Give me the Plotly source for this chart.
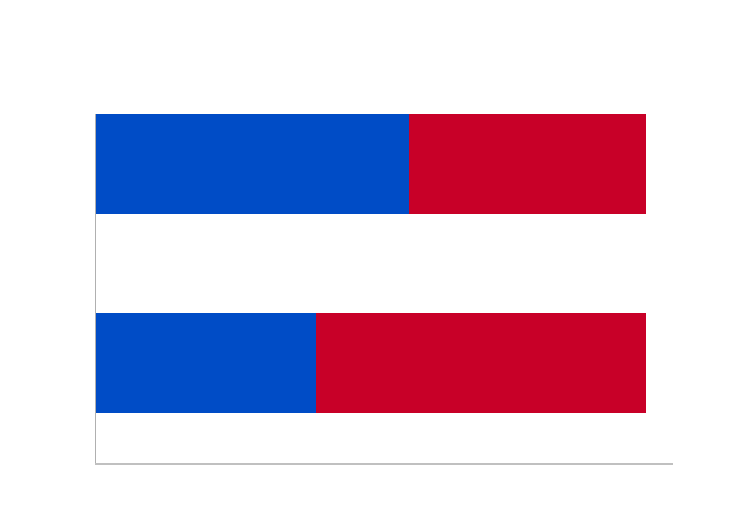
import plotly.graph_objects as go

categories = ["A", "B"]
blue_values = [57, 40]
red_values = [43, 60]

fig = go.Figure()
fig.add_trace(go.Bar(y=categories, x=blue_values, orientation="h",
                     marker=dict(color="#004cc6", line=dict(width=0)), width=0.5))
fig.add_trace(go.Bar(y=categories, x=red_values, orientation="h",
                     marker=dict(color="#c80028", line=dict(width=0)), width=0.5))

fig.update_layout(
    barmode="stack",
    width=750, height=532,
    margin=dict(l=96, r=77, t=114, b=69),
    paper_bgcolor="white", plot_bgcolor="white",
    showlegend=False,
    xaxis=dict(range=[0, 105], showgrid=False, zeroline=False, showticklabels=False,
               showline=True, linecolor="#c0c0c0", linewidth=2, ticks=""),
    yaxis=dict(range=[1.5, -0.25], showgrid=False, zeroline=False, showticklabels=False,
               showline=True, linecolor="#b0b0b0", linewidth=1, ticks=""),
)
fig.write_html("out.html")
